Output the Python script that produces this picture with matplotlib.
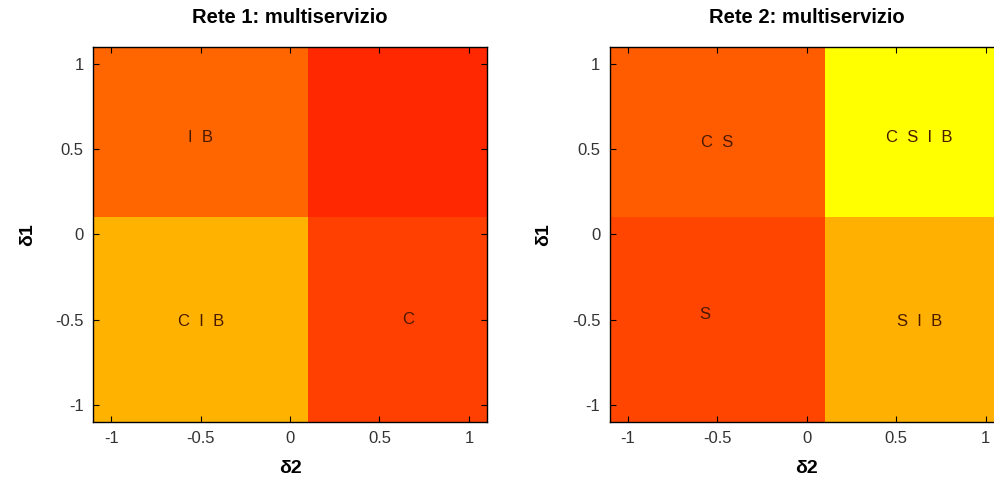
import numpy as np
import matplotlib
matplotlib.use("Agg")
import matplotlib.pyplot as plt

plt.rcParams['font.family'] = ['Liberation Sans', 'DejaVu Sans']

# cell edges on both axes
edges = [-1.1, 0.1, 1.1]

# colour level of each cell (autumn colormap), rows = delta1 (bottom, top), cols = delta2 (left, right)
rete1_vals = np.array([[0.70, 0.25],
                       [0.40, 0.16]])
rete2_vals = np.array([[0.27, 0.69],
                       [0.36, 1.00]])

# region labels and where they sit (delta2, delta1)
rete1_labels = ["I  B", "C  I  B", "C"]
rete1_pos = [(-0.5, 0.57), (-0.5, -0.51), (0.66, -0.50)]
rete2_labels = ["C  S", "C  S  I  B", "S", "S  I  B"]
rete2_pos = [(-0.5, 0.54), (0.63, 0.57), (-0.57, -0.47), (0.63, -0.51)]

titles = ["Rete 1: multiservizio", "Rete 2: multiservizio"]
ticks = [-1, -0.5, 0, 0.5, 1]
ticklabels = ["-1", "-0.5", "0", "0.5", "1"]

fig = plt.figure(figsize=(9.94, 4.84), dpi=100)
ax1 = fig.add_axes([0.0939, 0.1287, 0.3958, 0.774])
ax2 = fig.add_axes([0.6137, 0.1287, 0.3958, 0.774])

for ax, vals, labels, pos, title in [(ax1, rete1_vals, rete1_labels, rete1_pos, titles[0]),
                                     (ax2, rete2_vals, rete2_labels, rete2_pos, titles[1])]:
    ax.pcolormesh(edges, edges, vals, cmap='autumn', vmin=0, vmax=1)
    for lab, (x, y) in zip(labels, pos):
        ax.text(x, y, lab, ha='center', va='center', fontsize=12, color='#4a1a00')
    ax.set_xlim(-1.1, 1.1)
    ax.set_ylim(-1.1, 1.1)
    ax.set_xticks(ticks)
    ax.set_xticklabels(ticklabels)
    ax.set_yticks(ticks)
    ax.set_yticklabels(ticklabels)
    ax.tick_params(direction='in', top=True, right=True, length=4, labelsize=12,
                   labelcolor='#333333', pad=7)
    ax.set_title(title, fontsize=14.5, fontweight='bold', pad=17)
    ax.set_xlabel('δ2', fontsize=14, fontweight='bold', labelpad=10)
    ax.set_ylabel('δ1', fontsize=14, fontweight='bold', labelpad=14)
    for s in ax.spines.values():
        s.set_linewidth(1.0)

plt.savefig("out.png", dpi=100)
